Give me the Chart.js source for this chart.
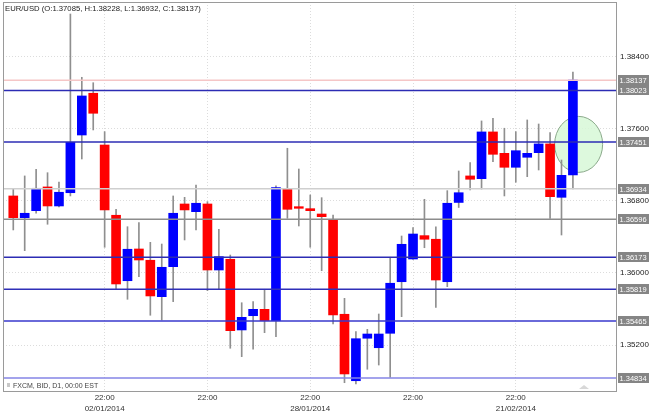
<!DOCTYPE html>
<html>
<head>
<meta charset="utf-8">
<script src="https://cdn.jsdelivr.net/npm/chart.js@4.4.1/dist/chart.umd.min.js"></script>
<style>
  html, body { margin: 0; padding: 0; background: #fff; }
  #wrap { width: 650px; height: 411px; position: relative; }
</style>
</head>
<body>
<div id="wrap"><canvas id="myChart"></canvas></div>
<script>
const ctx = document.getElementById('myChart');

// daily candles, EUR/USD
let opens  = [1.36853, 1.36612, 1.36690, 1.36953, 1.36742, 1.36889, 1.37529, 1.37992, 1.37418, 1.36639,
              1.35913, 1.36265, 1.36140, 1.35736, 1.36069, 1.36764, 1.36679, 1.36764, 1.36032, 1.36151,
              1.35367, 1.35525, 1.35596, 1.35470, 1.36934, 1.36734, 1.36712, 1.36653, 1.36594, 1.35541,
              1.34804, 1.35275, 1.35170, 1.35330, 1.35902, 1.36154, 1.36413, 1.36373, 1.35902, 1.36781,
              1.37075, 1.37045, 1.37563, 1.37326, 1.37171, 1.37282, 1.37333, 1.37430, 1.36838, 1.37085]
let highs  = [1.36927, 1.37075, 1.37149, 1.37111, 1.37008, 1.38871, 1.38169, 1.38109, 1.37566, 1.36705,
              1.36512, 1.36557, 1.36339, 1.36320, 1.36853, 1.36838, 1.36975, 1.36790, 1.36484, 1.36198,
              1.35669, 1.35681, 1.35818, 1.36964, 1.37382, 1.37152, 1.36864, 1.36834, 1.36642, 1.35718,
              1.35348, 1.35374, 1.35544, 1.36173, 1.36409, 1.36501, 1.36816, 1.36512, 1.36912, 1.37130,
              1.37222, 1.37685, 1.37715, 1.37604, 1.37566, 1.37696, 1.37651, 1.37555, 1.37252, 1.38228]
let lows   = [1.36476, 1.36246, 1.36661, 1.36539, 1.36731, 1.36853, 1.37263, 1.37585, 1.36284, 1.35818,
              1.35707, 1.35958, 1.35530, 1.35478, 1.35681, 1.36365, 1.36476, 1.35803, 1.35818, 1.35164,
              1.35071, 1.35153, 1.35337, 1.35292, 1.36605, 1.36520, 1.36284, 1.36024, 1.35433, 1.34782,
              1.34768, 1.34931, 1.34978, 1.34842, 1.35514, 1.36150, 1.36279, 1.35618, 1.35847, 1.36725,
              1.36919, 1.36930, 1.37233, 1.36853, 1.37005, 1.37067, 1.37141, 1.36605, 1.36420, 1.36932]
let closes = [1.36612, 1.36661, 1.36938, 1.36742, 1.36894, 1.37448, 1.37962, 1.37770, 1.36698, 1.35877,
              1.36262, 1.36143, 1.35744, 1.36062, 1.36661, 1.36698, 1.36772, 1.36032, 1.36180, 1.35359,
              1.35507, 1.35596, 1.35470, 1.36945, 1.36705, 1.36716, 1.36690, 1.36623, 1.35533, 1.34879,
              1.35270, 1.35322, 1.35322, 1.35885, 1.36317, 1.36431, 1.36373, 1.35921, 1.36772, 1.36889,
              1.37038, 1.37563, 1.37315, 1.37171, 1.37355, 1.37326, 1.37430, 1.36845, 1.37082, 1.38137]

// horizontal levels drawn on the chart
let levels = [1.38137, 1.38023, 1.37451, 1.36934, 1.36596, 1.36173, 1.35819, 1.35465, 1.34834]
let levelColors = ['#f5c6c6', '#2c2cb4', '#2c2cb4', '#cfcfcf', '#8c8c8c', '#2c2cb4', '#3030b8', '#3838cc', '#8585e6']

// axis ticks
let yTicks = [1.352, 1.360, 1.368, 1.376, 1.384]
let xTickIndex = [8, 17, 26, 35, 44]
let xTickLabels = [['22:00', '02/01/2014'], '22:00', ['22:00', '28/01/2014'], '22:00', ['22:00', '21/02/2014']]

// highlighted spot (candle index, price)
let markX = 49.5
let markY = 1.37425

const xMin = -0.9, xMax = 52.86
const yMin = 1.3469, yMax = 1.39004

Chart.defaults.font.family = '"Liberation Sans", Arial, sans-serif'

let bodyData = opens.map((o, i) => ({ x: i, y: [o, closes[i]] }))
let wickData = highs.map((h, i) => ({ x: i, y: [lows[i], h] }))
let bodyColors = opens.map((o, i) => closes[i] >= o ? '#0000ff' : '#ff0000')

let levelSets = levels.map((v, k) => ({
  type: 'line',
  data: [{ x: xMin, y: v }, { x: xMax, y: v }],
  borderColor: levelColors[k],
  borderWidth: 1.5,
  pointRadius: 0,
  order: 0
}))

const extras = {
  id: 'extras',
  beforeDatasetsDraw(chart) {
    const c = chart.ctx, xs = chart.scales.x, ys = chart.scales.y
    c.save()
    c.beginPath()
    c.ellipse(xs.getPixelForValue(markX), ys.getPixelForValue(markY), 24, 28, 0, 0, Math.PI * 2)
    c.fillStyle = 'rgba(215,248,215,0.85)'
    c.fill()
    c.strokeStyle = '#8aa88a'
    c.lineWidth = 1
    c.stroke()
    c.restore()
  },
  afterDraw(chart) {
    const c = chart.ctx, a = chart.chartArea, ys = chart.scales.y
    c.save()
    c.strokeStyle = '#9a9a9a'
    c.lineWidth = 1
    c.strokeRect(a.left + 0.5, a.top + 0.5, a.right - a.left - 1, a.bottom - a.top)

    // level labels on the right
    c.font = '7.5px "Liberation Sans", Arial, sans-serif'
    c.textBaseline = 'middle'
    c.textAlign = 'left'
    levels.forEach(v => {
      const y = Math.round(ys.getPixelForValue(v))
      c.fillStyle = '#858585'
      c.fillRect(a.right + 1, y - 5, 31, 10)
      c.fillStyle = '#fff'
      c.fillText(v.toFixed(5), a.right + 2.5, y + 0.5)
    })

    // title
    c.fillStyle = '#222'
    c.font = '7.7px "Liberation Sans", Arial, sans-serif'
    c.textBaseline = 'top'
    c.fillText('EUR/USD (O:1.37085, H:1.38228, L:1.36932, C:1.38137)', a.left + 2, a.top + 3)

    // source note
    c.fillStyle = '#c8c8c8'
    c.fillRect(a.left + 4, a.bottom - 8, 3, 4)
    c.fillStyle = '#444'
    c.font = '7px "Liberation Sans", Arial, sans-serif'
    c.textBaseline = 'alphabetic'
    c.fillText('FXCM, BID, D1, 00:00 EST', a.left + 10, a.bottom - 3)

    // scroll marker
    c.beginPath()
    c.moveTo(a.right - 38, a.bottom - 2)
    c.lineTo(a.right - 33, a.bottom - 6)
    c.lineTo(a.right - 28, a.bottom - 2)
    c.closePath()
    c.fillStyle = '#d8d8d8'
    c.fill()
    c.restore()
  }
}

new Chart(ctx, {
  type: 'bar',
  data: {
    datasets: [
      ...levelSets,
      {
        type: 'bar',
        data: bodyData,
        backgroundColor: bodyColors,
        borderWidth: 0,
        barThickness: 9,
        grouped: false,
        order: 1
      },
      {
        type: 'bar',
        data: wickData,
        backgroundColor: '#8f8f8f',
        borderWidth: 0,
        barThickness: 1,
        grouped: false,
        order: 2
      }
    ]
  },
  options: {
    responsive: true,
    maintainAspectRatio: false,
    animation: false,
    layout: { padding: { left: 3, top: 2, right: 0, bottom: 0 } },
    scales: {
      x: {
        type: 'linear',
        offset: false,
        min: xMin,
        max: xMax,
        afterBuildTicks: s => { s.ticks = xTickIndex.map(v => ({ value: v })) },
        afterFit: s => { s.height = 20; s.paddingLeft = 0; s.paddingRight = 0 },
        ticks: {
          autoSkip: false,
          maxRotation: 0,
          padding: 2,
          color: '#333',
          font: { size: 8, lineHeight: 1.3 },
          callback: (v, i) => xTickLabels[i]
        },
        grid: { color: '#dcdcdc', drawTicks: false, offset: false },
        border: { display: false, dash: [1, 2] }
      },
      y: {
        type: 'linear',
        position: 'right',
        min: yMin,
        max: yMax,
        afterBuildTicks: s => { s.ticks = yTicks.map(v => ({ value: v })) },
        afterFit: s => { s.width = 33; s.paddingTop = 0; s.paddingBottom = 0 },
        ticks: {
          padding: 3,
          color: '#222',
          font: { size: 8 },
          callback: v => v.toFixed(5)
        },
        grid: { color: '#dcdcdc', drawTicks: false },
        border: { display: false, dash: [1, 2] }
      }
    },
    plugins: {
      legend: { display: false },
      tooltip: { enabled: false }
    }
  },
  plugins: [extras]
});
</script>
</body>
</html>
